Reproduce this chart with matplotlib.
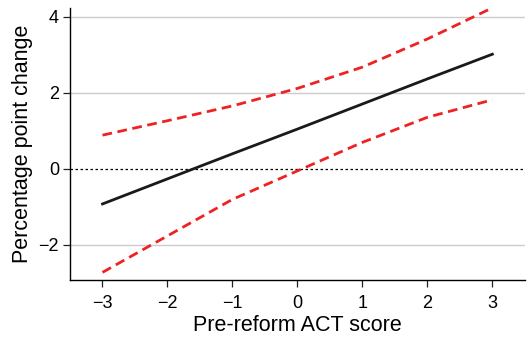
import numpy as np
import matplotlib
matplotlib.use("Agg")
import matplotlib.pyplot as plt

plt.rcParams['font.family'] = ['Liberation Sans', 'DejaVu Sans']

act = [-3, -2, -1, 0, 1, 2, 3]
estimate = [-0.92, -0.26, 0.40, 1.05, 1.71, 2.37, 3.02]
upper = [0.89, 1.27, 1.66, 2.12, 2.68, 3.42, 4.24]
lower = [-2.72, -1.76, -0.80, -0.05, 0.70, 1.36, 1.82]
yticks = [-2, 0, 2, 4]
xticks = [-3, -2, -1, 0, 1, 2, 3]

fig = plt.figure(figsize=(5.28, 3.41), dpi=100)
ax = fig.add_axes([0.1326, 0.179, 0.8614, 0.798])

for y in [-2, 2, 4]:
    ax.axhline(y, color='#cccccc', lw=1.0, zorder=0)
ax.axhline(0, color='black', lw=0.9, ls=(0, (2, 2)), zorder=1)

ax.plot(act, upper, color='#ee2222', lw=2.0, ls=(0, (3.5, 2.0)), zorder=2)
ax.plot(act, lower, color='#ee2222', lw=2.0, ls=(0, (3.5, 2.0)), zorder=2)
ax.plot(act, estimate, color='#1a1a1a', lw=2.0, zorder=3)

ax.set_xlim(-3.5, 3.5)
ax.set_ylim(-2.92, 4.24)
ax.set_xticks(xticks)
ax.set_yticks(yticks)
ax.set_xticklabels(['\u2212' + str(-t) if t < 0 else str(t) for t in xticks])
ax.set_yticklabels(['\u2212' + str(-t) if t < 0 else str(t) for t in yticks])
ax.tick_params(labelsize=13, length=5, width=0.9, color='#222222')
ax.tick_params(axis='x', pad=6)
ax.tick_params(axis='y', pad=3)

ax.spines['top'].set_visible(False)
ax.spines['right'].set_visible(False)
ax.spines['left'].set_linewidth(1.0)
ax.spines['bottom'].set_linewidth(1.0)

ax.set_xlabel('Pre-reform ACT score', fontsize=15.5, labelpad=2)
ax.set_ylabel('Percentage point change', fontsize=15.5, labelpad=4)

fig.savefig('out.png', dpi=100)
